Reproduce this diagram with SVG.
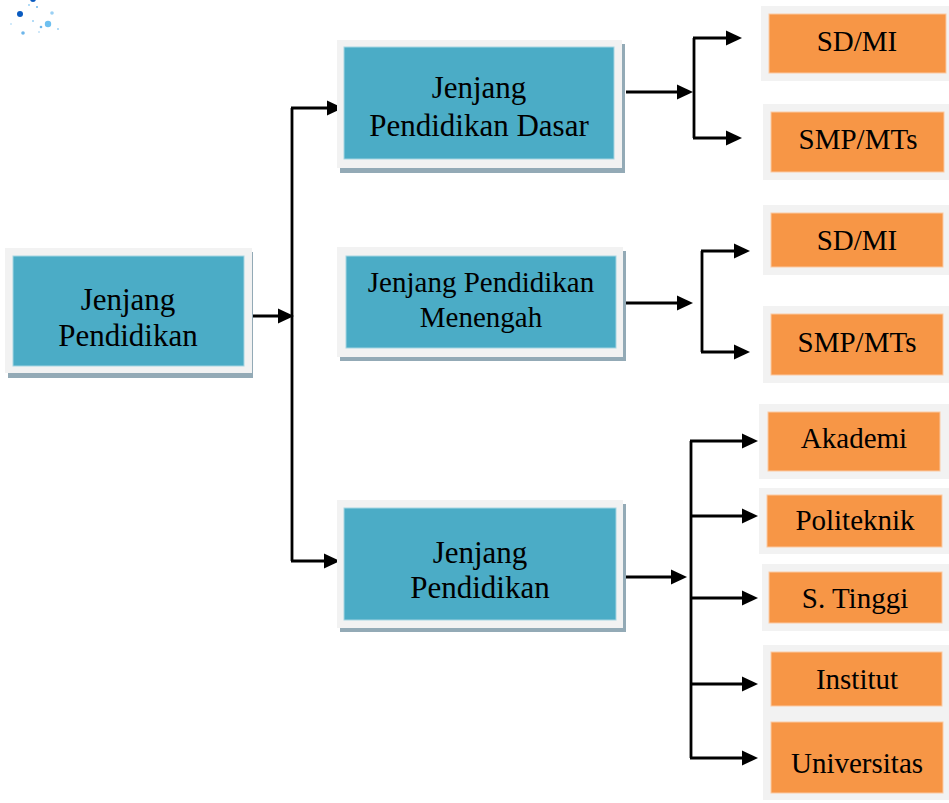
<svg xmlns="http://www.w3.org/2000/svg" xmlns:xlink="http://www.w3.org/1999/xlink" width="949" height="803" viewBox="0 0 949 803">
<style>
.frame{fill:#F2F2F2}
.shadow{fill:#93AAB6}
.teal{fill:#4BACC6;stroke:#A5D5E2;stroke-width:1}
.orange{fill:#F79646;stroke:#FBC9A2;stroke-width:1}
text{font-family:"Liberation Serif","Times New Roman",serif;fill:#000;text-anchor:middle}
.t31{font-size:31px}
.t29{font-size:29px}
.conn{stroke:#000;stroke-width:2.8;fill:none}
</style>
<defs>
<path id="ah" d="M-16,-7.5 L0,0 L-16,7.5 z" fill="#000"/>
</defs>
<rect width="949" height="803" fill="#fff"/>
<g id="decor">
<circle cx="20" cy="14" r="3" fill="#0A5BC0"/>
<circle cx="33" cy="-1" r="3" fill="#0A5BC0"/>
<circle cx="48" cy="24" r="3.2" fill="#6EC0F0"/>
<circle cx="23" cy="33" r="1.8" fill="#6EB6EA"/>
<circle cx="41" cy="27" r="1.3" fill="#6EB6EA"/>
<circle cx="52" cy="13" r="1.8" fill="#9AD0F4"/>
<circle cx="37" cy="7" r="1" fill="#6EB6EA"/>
<circle cx="29" cy="5" r="1" fill="#9AD0F4"/>
<circle cx="58" cy="29" r="1" fill="#9AD0F4"/>
<circle cx="11" cy="24" r="0.8" fill="#9AD0F4"/>
<circle cx="33" cy="21" r="1" fill="#9AD0F4"/>
<circle cx="39" cy="32" r="1" fill="#BFE1F7"/>
</g>
<g id="connectors">
<path class="conn" d="M247,316 H284"/>
<path class="conn" d="M292,108 V561"/>
<path class="conn" d="M291,108 H333"/>
<path class="conn" d="M291,561 H330"/>
<path class="conn" d="M626,92 H683"/>
<path class="conn" d="M694,38 V138"/>
<path class="conn" d="M693,38 H732"/>
<path class="conn" d="M693,138 H732"/>
<path class="conn" d="M624,303 H683"/>
<path class="conn" d="M702,251 V352"/>
<path class="conn" d="M701,251 H740"/>
<path class="conn" d="M701,352 H740"/>
<path class="conn" d="M624,577 H677"/>
<path class="conn" d="M691,441 V758"/>
<path class="conn" d="M690,441 H748"/>
<path class="conn" d="M690,516 H748"/>
<path class="conn" d="M690,598 H748"/>
<path class="conn" d="M690,684 H748"/>
<path class="conn" d="M690,758 H748"/>
<use xlink:href="#ah" href="#ah" x="294" y="316"/>
<use xlink:href="#ah" href="#ah" x="343" y="108"/>
<use xlink:href="#ah" href="#ah" x="340" y="561"/>
<use xlink:href="#ah" href="#ah" x="693" y="92"/>
<use xlink:href="#ah" href="#ah" x="742" y="38"/>
<use xlink:href="#ah" href="#ah" x="742" y="138"/>
<use xlink:href="#ah" href="#ah" x="693" y="303"/>
<use xlink:href="#ah" href="#ah" x="750" y="251"/>
<use xlink:href="#ah" href="#ah" x="750" y="352"/>
<use xlink:href="#ah" href="#ah" x="687" y="577"/>
<use xlink:href="#ah" href="#ah" x="758" y="441"/>
<use xlink:href="#ah" href="#ah" x="758" y="516"/>
<use xlink:href="#ah" href="#ah" x="758" y="598"/>
<use xlink:href="#ah" href="#ah" x="758" y="684"/>
<use xlink:href="#ah" href="#ah" x="758" y="758"/>
</g>
<g id="node-main">
<rect class="shadow" x="8" y="252" width="245" height="126"/>
<rect class="frame" x="5" y="248" width="247" height="125"/>
<rect class="teal" x="13" y="256" width="231" height="110"/>
<text class="t31" x="128" y="310">Jenjang</text>
<text class="t31" x="128" y="346">Pendidikan</text>
</g>
<g id="node-dasar">
<rect class="shadow" x="340" y="44" width="285" height="129"/>
<rect class="frame" x="337" y="40" width="285" height="128"/>
<rect class="teal" x="344" y="47" width="270" height="112"/>
<text class="t31" x="479" y="98">Jenjang</text>
<text class="t31" x="479" y="136">Pendidikan Dasar</text>
</g>
<g id="node-menengah">
<rect class="shadow" x="340" y="251" width="286" height="110"/>
<rect class="frame" x="337" y="247" width="286" height="110"/>
<rect class="teal" x="346" y="256" width="270" height="92"/>
<text class="t29" x="481" y="292">Jenjang Pendidikan</text>
<text class="t29" x="481" y="327">Menengah</text>
</g>
<g id="node-tinggi">
<rect class="shadow" x="340" y="504" width="286" height="128"/>
<rect class="frame" x="337" y="500" width="286" height="128"/>
<rect class="teal" x="344" y="508" width="272" height="112"/>
<text class="t31" x="480" y="563">Jenjang</text>
<text class="t31" x="480" y="598">Pendidikan</text>
</g>
<g id="node-sdmi-1">
<rect class="frame" x="761" y="6" width="188" height="75"/>
<rect class="orange" x="769" y="14" width="177" height="59"/>
<text class="t29" x="857" y="51">SD/MI</text>
</g>
<g id="node-smp-1">
<rect class="frame" x="763" y="104" width="186" height="76"/>
<rect class="orange" x="771" y="112" width="173" height="60"/>
<text class="t29" x="858" y="149">SMP/MTs</text>
</g>
<g id="node-sdmi-2">
<rect class="frame" x="763" y="205" width="186" height="70"/>
<rect class="orange" x="771" y="213" width="172" height="54"/>
<text class="t29" x="857" y="250">SD/MI</text>
</g>
<g id="node-smp-2">
<rect class="frame" x="763" y="306" width="186" height="77"/>
<rect class="orange" x="771" y="314" width="172" height="61"/>
<text class="t29" x="857" y="352">SMP/MTs</text>
</g>
<g id="node-akademi">
<rect class="frame" x="759" y="404" width="190" height="75"/>
<rect class="orange" x="768" y="412" width="172" height="59"/>
<text class="t29" x="854" y="448">Akademi</text>
</g>
<g id="node-politeknik">
<rect class="frame" x="759" y="488" width="190" height="66"/>
<rect class="orange" x="767" y="495" width="175" height="52"/>
<text class="t29" x="855" y="530">Politeknik</text>
</g>
<g id="node-stinggi">
<rect class="frame" x="762" y="564" width="187" height="67"/>
<rect class="orange" x="769" y="572" width="173" height="51"/>
<text class="t29" x="855" y="608">S. Tinggi</text>
</g>
<g id="node-institut">
<rect class="frame" x="763" y="645" width="186" height="70"/>
<rect class="orange" x="771" y="652" width="171" height="54"/>
<text class="t29" x="857" y="689">Institut</text>
</g>
<g id="node-universitas">
<rect class="frame" x="763" y="714" width="186" height="86"/>
<rect class="orange" x="771" y="722" width="172" height="71"/>
<text class="t29" x="857" y="773">Universitas</text>
</g>
</svg>
